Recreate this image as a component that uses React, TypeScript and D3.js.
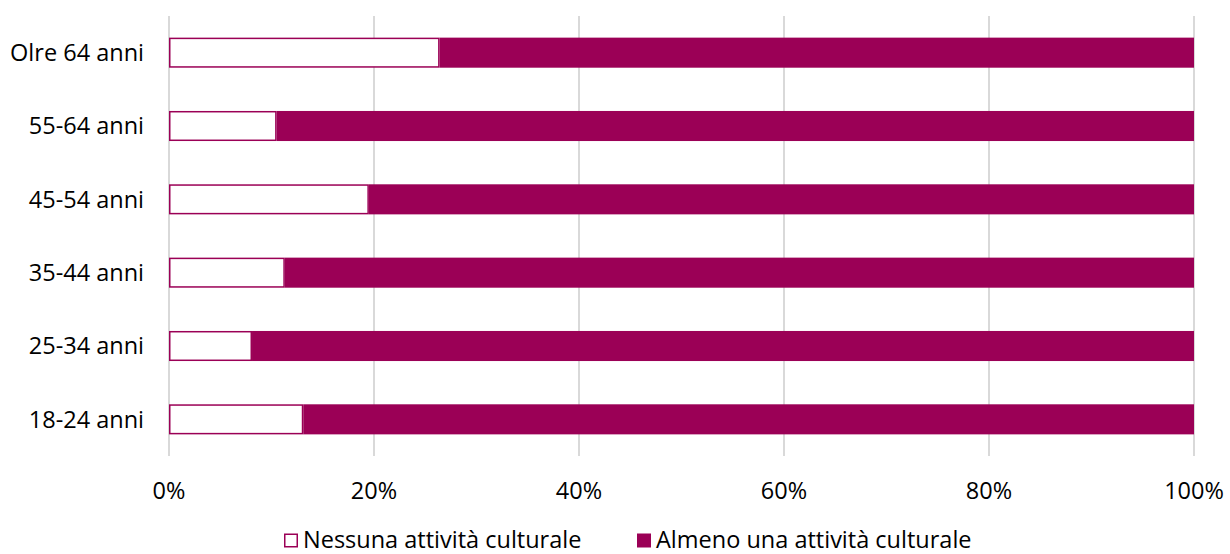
import React, { useEffect, useRef } from 'react';
import * as d3 from 'd3';

// age groups, top to bottom
const categories = ['Olre 64 anni', '55-64 anni', '45-54 anni', '35-44 anni', '25-34 anni', '18-24 anni'];
// share with no cultural activity (%)
const nessuna = [26.4, 10.5, 19.5, 11.3, 8.1, 13.1];
// share with at least one cultural activity (%)
const almeno = [73.6, 89.5, 80.5, 88.7, 91.9, 86.9];
const xTicks = [0, 20, 40, 60, 80, 100];
const seriesNames = ['Nessuna attività culturale', 'Almeno una attività culturale'];

const COLOR = '#9b0056';
const FONT = '"Open Sans", Lato, sans-serif';

const App: React.FC = () => {
  const svgRef = useRef<SVGSVGElement>(null);

  useEffect(() => {
    document.body.style.margin = '0';
    if (!svgRef.current) return;

    const svg = d3.select(svgRef.current);
    svg.selectAll('*').remove();

    const margin = { top: 16, right: 36, bottom: 98, left: 169 };
    const width = 1230 - margin.left - margin.right;
    const height = 554 - margin.top - margin.bottom;

    const g = svg.append('g').attr('transform', `translate(${margin.left},${margin.top})`);

    const x = d3.scaleLinear().domain([0, 100]).range([0, width]);
    const y = d3.scaleBand().domain(categories).range([0, height]).paddingInner(0.59).paddingOuter(0.295);

    // gridlines
    g.selectAll('line.grid')
      .data(xTicks)
      .join('line')
      .attr('class', 'grid')
      .attr('x1', d => x(d))
      .attr('x2', d => x(d))
      .attr('y1', 0)
      .attr('y2', height)
      .attr('stroke', '#d9d9d9')
      .attr('stroke-width', 2);

    const rows = categories.map((c, i) => ({ c, a: nessuna[i], b: almeno[i] }));

    // second series (filled)
    g.selectAll('rect.almeno')
      .data(rows)
      .join('rect')
      .attr('class', 'almeno')
      .attr('x', d => x(d.a))
      .attr('y', d => y(d.c)!)
      .attr('width', d => x(d.a + d.b) - x(d.a))
      .attr('height', y.bandwidth())
      .attr('fill', COLOR);

    // first series (outlined)
    g.selectAll('rect.nessuna')
      .data(rows)
      .join('rect')
      .attr('class', 'nessuna')
      .attr('x', x(0) + 0.75)
      .attr('y', d => y(d.c)! + 0.75)
      .attr('width', d => x(d.a) - x(0) - 1.5)
      .attr('height', y.bandwidth() - 1.5)
      .attr('fill', '#fff')
      .attr('stroke', COLOR)
      .attr('stroke-width', 1.5);

    // y labels
    g.selectAll('text.ylab')
      .data(categories)
      .join('text')
      .attr('class', 'ylab')
      .attr('x', -25)
      .attr('y', d => y(d)! + y.bandwidth() / 2)
      .attr('dy', '0.35em')
      .attr('text-anchor', 'end')
      .attr('font-family', FONT)
      .attr('font-size', 23.5)
      .attr('fill', '#000')
      .text(d => d);

    // x labels
    g.selectAll('text.xlab')
      .data(xTicks)
      .join('text')
      .attr('class', 'xlab')
      .attr('x', d => x(d))
      .attr('y', height + 43)
      .attr('text-anchor', 'middle')
      .attr('font-family', FONT)
      .attr('font-size', 23.5)
      .attr('fill', '#000')
      .text(d => `${d}%`);

    // legend
    const legend = svg.append('g').attr('font-family', FONT).attr('font-size', 23.5);
    const lx = [284, 637];
    seriesNames.forEach((name, i) => {
      legend.append('rect')
        .attr('x', lx[i] + 0.75)
        .attr('y', 534.25)
        .attr('width', 12.5)
        .attr('height', 12.5)
        .attr('fill', i === 0 ? '#fff' : COLOR)
        .attr('stroke', COLOR)
        .attr('stroke-width', 1.5);
      legend.append('text')
        .attr('x', lx[i] + 19)
        .attr('y', 548)
        .attr('fill', '#000')
        .text(name);
    });
  }, []);

  return <svg ref={svgRef} width={1230} height={554} style={{ display: 'block', background: '#fff' }} />;
};

export default App;
